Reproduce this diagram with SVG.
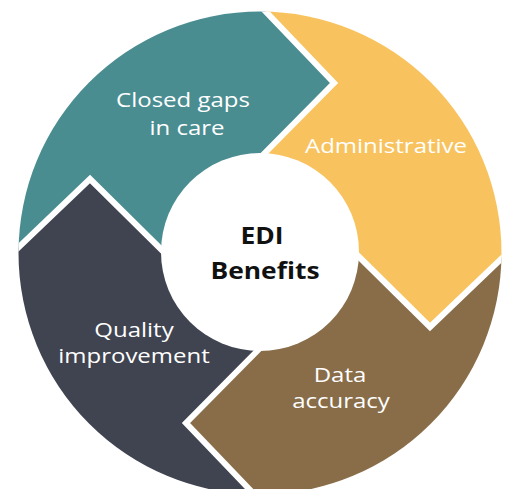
<svg xmlns="http://www.w3.org/2000/svg" width="509" height="489" viewBox="0 0 509 489">
<style>
.lbl{font-family:"Open Sans","Liberation Sans",sans-serif;font-size:20px;fill:#ffffff;text-anchor:middle}
.ctr{font-family:"Open Sans","Liberation Sans",sans-serif;font-size:24px;font-weight:bold;fill:#111111;text-anchor:middle}
.sep{fill:none;stroke:#ffffff;stroke-width:6;stroke-linejoin:miter;stroke-miterlimit:10}
</style>
<defs>
<clipPath id="disc"><circle cx="260" cy="253" r="241.5"/></clipPath>
</defs>
<rect width="509" height="489" fill="#ffffff"/>
<g clip-path="url(#disc)">
<g id="closed-gaps">
<polygon fill="#4A8D91" points="247,-8 -30,-30 -30,266 -1,266 90,179 180,268 260,253 245,173 334,83"/>
</g>
<g id="administrative">
<polygon fill="#F8C35E" points="247,-8 334,83 245,173 260,253 340,238 430,327 521,240 540,-30 247,-30"/>
</g>
<g id="data-accuracy">
<polygon fill="#886D48" points="521,240 430,327 340,238 260,253 275,333 186,423 273,514 540,530 540,240"/>
</g>
<g id="quality">
<polygon fill="#404450" points="273,514 186,423 275,333 260,253 180,268 90,179 -1,266 -30,266 -30,530"/>
</g>
<g id="separators">
<polyline class="sep" points="247,-8 334,83 245,173"/>
<polyline class="sep" points="521,240 430,327 340,238"/>
<polyline class="sep" points="273,514 186,423 275,333"/>
<polyline class="sep" points="-1,266 90,179 180,268"/>
</g>
</g>
<g id="center">
<circle cx="260" cy="252" r="99" fill="#ffffff"/>
<text class="ctr" transform="translate(262,244) scale(1.1,1)">EDI</text>
<text class="ctr" transform="translate(265,279) scale(1.1,1)">Benefits</text>
</g>
<g id="labels">
<text class="lbl" transform="translate(183,107) scale(1.2,1)">Closed gaps</text>
<text class="lbl" transform="translate(187,135) scale(1.2,1)">in care</text>
<text class="lbl" transform="translate(386,153) scale(1.2,1)">Administrative</text>
<text class="lbl" transform="translate(134,337) scale(1.2,1)">Quality</text>
<text class="lbl" transform="translate(134,363) scale(1.2,1)">improvement</text>
<text class="lbl" transform="translate(340,382) scale(1.2,1)">Data</text>
<text class="lbl" transform="translate(341,408) scale(1.2,1)">accuracy</text>
</g>
</svg>
